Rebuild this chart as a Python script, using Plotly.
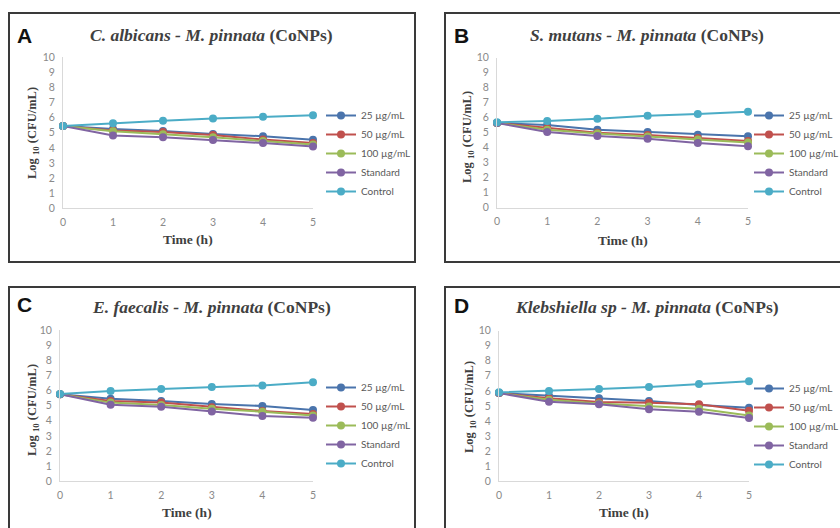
import plotly.graph_objects as go

W, H = 840, 528

hours = [0, 1, 2, 3, 4, 5]
series_names = ["25 µg/mL", "50 µg/mL", "100 µg/mL", "Standard", "Control"]
series_colors = ["#4A74AC", "#C0504D", "#9BBB59", "#8064A2", "#4BACC6"]

panel_letters = ["A", "B", "C", "D"]
panel_titles = [
    "<i>C. albicans - M. pinnata</i> (CoNPs)",
    "<i>S. mutans - M. pinnata</i> (CoNPs)",
    "<i>E. faecalis - M. pinnata</i> (CoNPs)",
    "<i>Klebshiella sp - M. pinnata</i> (CoNPs)",
]

# Log10 CFU/mL values
a_25 = [5.45, 5.25, 5.12, 4.92, 4.77, 4.54]
a_50 = [5.45, 5.15, 5.05, 4.85, 4.55, 4.33]
a_100 = [5.45, 5.10, 4.90, 4.70, 4.45, 4.22]
a_std = [5.45, 4.82, 4.70, 4.52, 4.32, 4.10]
a_ctrl = [5.45, 5.63, 5.80, 5.94, 6.07, 6.16]

b_25 = [5.65, 5.51, 5.20, 5.05, 4.87, 4.76]
b_50 = [5.65, 5.30, 5.00, 4.85, 4.65, 4.45]
b_100 = [5.65, 5.20, 4.95, 4.75, 4.55, 4.35]
b_std = [5.65, 5.05, 4.78, 4.60, 4.31, 4.09]
b_ctrl = [5.70, 5.78, 5.93, 6.13, 6.25, 6.40]

c_25 = [5.75, 5.46, 5.31, 5.11, 4.98, 4.71]
c_50 = [5.75, 5.30, 5.20, 4.90, 4.65, 4.45]
c_100 = [5.75, 5.20, 5.05, 4.80, 4.60, 4.35]
c_std = [5.75, 5.06, 4.93, 4.62, 4.31, 4.20]
c_ctrl = [5.77, 5.97, 6.10, 6.23, 6.34, 6.54]

d_25 = [5.85, 5.66, 5.50, 5.32, 5.05, 4.88]
d_50 = [5.85, 5.50, 5.25, 5.20, 5.10, 4.68]
d_100 = [5.85, 5.40, 5.15, 4.95, 4.80, 4.35]
d_std = [5.85, 5.28, 5.10, 4.77, 4.61, 4.19]
d_ctrl = [5.90, 5.99, 6.12, 6.25, 6.45, 6.63]

panel_data = [
    [a_25, a_50, a_100, a_std, a_ctrl],
    [b_25, b_50, b_100, b_std, b_ctrl],
    [c_25, c_50, c_100, c_std, c_ctrl],
    [d_25, d_50, d_100, d_std, d_ctrl],
]

y_ticks = list(range(0, 11))

# layout geometry (pixels)
plot_boxes = [  # x0, x1, ytop, ybottom of plotting area
    (63, 313, 57.3, 208.3),
    (497, 748, 57.7, 207.7),
    (60, 313, 330, 481.3),
    (499, 749, 330.7, 481),
]
frames = [(9, 415, 13, 262), (445, 850, 13, 262), (9, 415, 287, 560), (445, 850, 287, 560)]
letter_pos = [(24, 36), (461, 35), (24, 304), (461, 305)]
title_pos = [(211, 35), (647, 35), (211, 307), (647, 307)]
ytitle_pos = [(33, 133), (468, 137), (33, 410), (470, 407)]
xtitle_pos = [(188, 239), (623, 240), (187, 512), (624, 512)]
legend_pos = [(321, 101), (749, 101), (321, 373), (749, 374)]


def fx(px):
    return px / W


def fy(py):
    return 1 - py / H


fig = go.Figure()
legend_names = ["legend", "legend2", "legend3", "legend4"]

for p in range(4):
    sfx = "" if p == 0 else str(p + 1)
    for s in range(5):
        fig.add_trace(go.Scatter(
            x=hours, y=panel_data[p][s], name=series_names[s],
            mode="lines+markers",
            line=dict(color=series_colors[s], width=2),
            marker=dict(color=series_colors[s], size=8),
            cliponaxis=False,
            xaxis="x" + sfx, yaxis="y" + sfx,
            legend=legend_names[p],
            legendgroup=f"p{p}s{s}",
        ))
    x0, x1, yt, yb = plot_boxes[p]
    axis_common = dict(showgrid=False, zeroline=False, showline=True,
                       linecolor="#d9d9d9", linewidth=1,
                       tickfont=dict(family="Lato", size=10.5, color="#8a8a8a"),
                       ticks="", fixedrange=True)
    fig.update_layout({
        "xaxis" + sfx: dict(domain=[fx(x0), fx(x1)], range=[0, 5],
                            tickvals=hours, anchor="y" + sfx,
                            ticklabelstandoff=4, **axis_common),
        "yaxis" + sfx: dict(domain=[fy(yb), fy(yt)], range=[0, 10],
                            tickvals=y_ticks, anchor="x" + sfx,
                            ticklabelstandoff=5, **axis_common),
        legend_names[p]: dict(x=fx(legend_pos[p][0]), y=fy(legend_pos[p][1]),
                              xanchor="left", yanchor="top",
                              font=dict(family="Lato", size=10, color="#595959"),
                              itemwidth=30, tracegroupgap=0,
                              bgcolor="rgba(0,0,0,0)"),
    })
    fx0, fx1, fy0, fy1 = frames[p]
    fig.add_shape(type="rect", xref="paper", yref="paper",
                  x0=fx(fx0), x1=fx(fx1), y0=fy(fy1), y1=fy(fy0),
                  line=dict(color="#3a3a3a", width=2), layer="below")
    fig.add_annotation(x=fx(letter_pos[p][0]), y=fy(letter_pos[p][1]),
                       xref="paper", yref="paper", text="<b>" + panel_letters[p] + "</b>",
                       showarrow=False, xanchor="center", yanchor="middle",
                       font=dict(family="Liberation Sans", size=21, color="#111111"))
    fig.add_annotation(x=fx(title_pos[p][0]), y=fy(title_pos[p][1]),
                       xref="paper", yref="paper", text="<b>" + panel_titles[p] + "</b>",
                       showarrow=False, xanchor="center", yanchor="middle",
                       font=dict(family="Liberation Serif", size=17.5, color="#404040"))
    fig.add_annotation(x=fx(ytitle_pos[p][0]), y=fy(ytitle_pos[p][1]),
                       xref="paper", yref="paper",
                       text="<b>Log <sub>10</sub> (CFU/mL)</b>", textangle=-90,
                       showarrow=False, xanchor="center", yanchor="middle",
                       font=dict(family="Liberation Serif", size=12.5, color="#404040"))
    fig.add_annotation(x=fx(xtitle_pos[p][0]), y=fy(xtitle_pos[p][1]),
                       xref="paper", yref="paper", text="<b>Time (h)</b>",
                       showarrow=False, xanchor="center", yanchor="middle",
                       font=dict(family="Liberation Serif", size=13.5, color="#404040"))

fig.update_layout(width=W, height=H,
                  margin=dict(l=0, r=0, t=0, b=0, autoexpand=False),
                  paper_bgcolor="white", plot_bgcolor="white", showlegend=True)

fig.write_html("out.html", config={"displayModeBar": False},
               post_script="document.body.style.margin='0';document.body.style.overflow='hidden';")
